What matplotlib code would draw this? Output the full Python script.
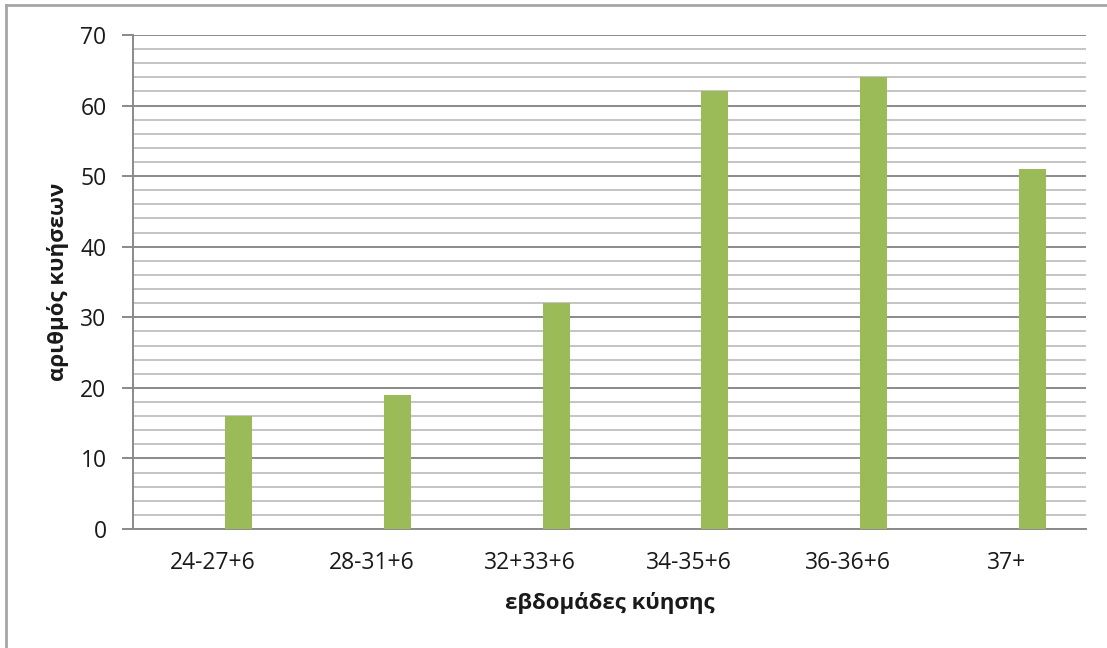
import matplotlib
matplotlib.use("Agg")
import matplotlib.pyplot as plt
from matplotlib.lines import Line2D
from matplotlib.ticker import MultipleLocator
import numpy as np

categories = ["24-27+6", "28-31+6", "32+33+6", "34-35+6", "36-36+6", "37+"]
values = [16, 19, 32, 62, 64, 51]
y_ticks = [0, 10, 20, 30, 40, 50, 60, 70]
x_label = "εβδομάδες κύησης"
y_label = "αριθμός κυήσεων"

plt.rcParams['font.family'] = ['Open Sans', 'Noto Sans', 'DejaVu Sans']

fig = plt.figure(figsize=(11.07, 6.48), dpi=100)
ax = fig.add_axes([133/1107, 1-529/648, (1086-133)/1107, (529-35)/648])

x = np.arange(len(categories))
ax.bar(x + 0.164, values, width=0.17, color="#9BBB59", zorder=3)

ax.set_xlim(-0.5, len(categories) - 0.5)
ax.set_ylim(0, 70)
ax.set_yticks(y_ticks)
ax.yaxis.set_minor_locator(MultipleLocator(2))
ax.grid(which="major", axis="y", color="#8A8A8A", linewidth=1.4, zorder=0)
ax.grid(which="minor", axis="y", color="#C4C4C4", linewidth=1.4, zorder=0)
ax.set_xticks(x)
ax.set_xticklabels(categories)

for s in ["top", "right"]:
    ax.spines[s].set_visible(False)
ax.spines["left"].set_color("#8A8A8A")
ax.spines["bottom"].set_color("#8A8A8A")
ax.spines["left"].set_linewidth(1.4)
ax.spines["bottom"].set_linewidth(1.4)

ax.tick_params(axis="y", which="major", length=8, width=1.4, color="#8A8A8A",
               labelsize=16.5, pad=11, labelcolor="#1a1a1a")
ax.tick_params(axis="y", which="minor", length=0)
ax.tick_params(axis="x", length=0, labelsize=16.5, pad=16, labelcolor="#1a1a1a")

ax.set_xlabel(x_label, fontsize=16, fontweight="bold", labelpad=12, color="#1a1a1a")
ax.set_ylabel(y_label, fontsize=16, fontweight="bold", labelpad=8, color="#1a1a1a")

# outer chart border (left and top visible)
fig.add_artist(Line2D([6/1107, 6/1107], [0, 1-5/648], transform=fig.transFigure,
                      color="#A6A6A6", linewidth=2))
fig.add_artist(Line2D([6/1107, 1], [1-5/648, 1-5/648], transform=fig.transFigure,
                      color="#A6A6A6", linewidth=2))

fig.savefig("out.png", dpi=100)
